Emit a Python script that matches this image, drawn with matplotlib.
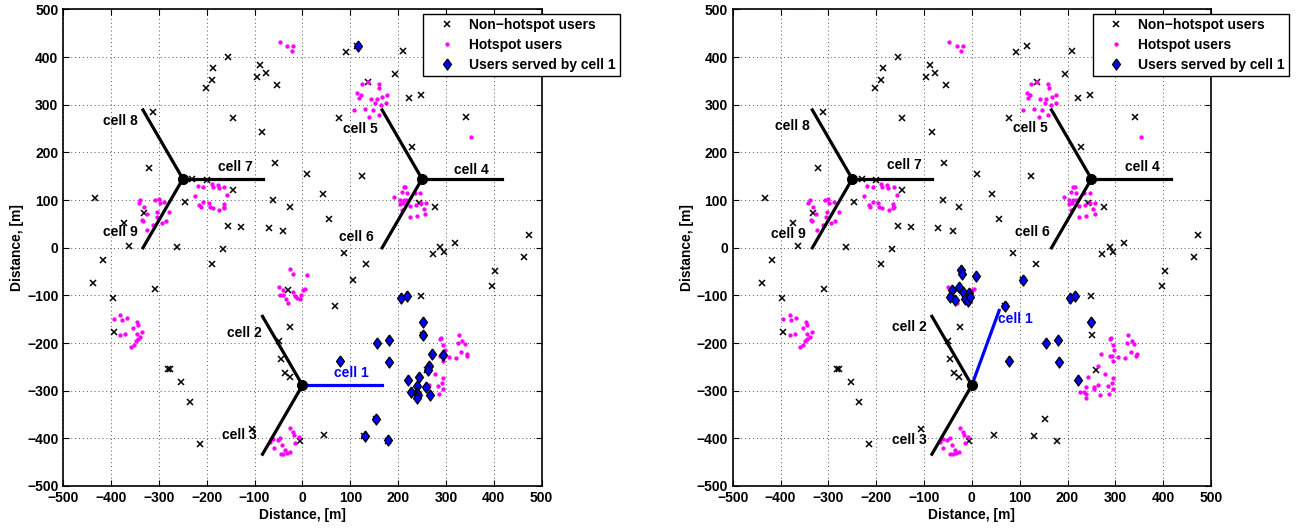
import numpy as np
import matplotlib
matplotlib.use('Agg')
import matplotlib.pyplot as plt

#-----------------------------------------------------------------------------------------------------------
# Data (metres)

# users without hotspot
nonhot_x = [-155, -186, -189.5, -202, -88.5, -95.5, -77, -53, 92, -311.5, -145, -84, 77, -320.6, -58, 10.5,
            42, 56.4, -433, -246, -230, -200, -146, -60.6, -26.5, -332, -373.5, -155, -127.5, -70, -40, -363,
            -263, -166.5, -417, 86, 210, 194, 136.6, 222, 248, 341.5, 228, 124, 243, 277, 272.5, 288, 295, 318,
            473, 464, 115, -438, -189.5, -309, -396.5, -395, 106.6, -30.7, 69, -25.8, -50, -45, -37, -26,
            -281.5, -277, -253.6, -235, -106, -214, -5.6, 46, 133.8, 248.8, 403.5, 396.5, 251, 260.6, 153, 129,
            179]
nonhot_y = [400, 376, 352, 336, 384, 359, 366, 340.5, 410, 284, 273, 243, 273, 168, 178, 155,
            113, 60, 105, 95, 145, 141, 120, 101, 86, 72, 51, 46, 43, 41, 36, 4,
            0.7, -2, -25, -12, 412.6, 364, 348, 315, 320, 274, 211, 151, 94, 85, -13, 0.7, -10, 10,
            26, -20, 424, -75, -35, -86, -105.6, -176, -68, -89.5, -121.7, -167, -196, -233.6, -262, -270.6,
            -255, -254.5, -281, -323, -380, -412.6, -406, -392, -33.6, -100.7, -49.7, -80.4, -183, -256.6, -360, -396,
            -405]

# hotspot users
hot_x = [124, 136, 159, 161, 115, 122, 118, 143, 155, 167, 176, 152, 165, 175, 107, 130, 147, 140, 160,
         352.6, -47, -32, -19, -22,
         212, 215, 208, 218, 192, 204, 212.5, 217, 210, 235.5, 246, 203, 225, 237.6, 247, 258.5, 254, 257, 225, 239, 208,
         -219, -207, -189.5, -188, -177, -175, -163, -157, -225, -207, -216, -212.5, -196, -194, -187.5, -173.5, -165, -163, -165,
         -342, -338.7, -331.7, -308, -299.7, -297.6, -289, -303.8, -278, -325, -336, -334, -305, -294, -285.7, -311.5, -324,
         -27, -19.5, 9, -49, -40, -47, -41, -34, -30, -19, -16, -10.5, -6, -3, 0.7, 5,
         -394, -381, -377.7, -367, -346, -354, -343.6, -334.5, -345.6, -339, -344, -349, -352.6, -359, -370, -381,
         -25.8, -18.8, -16.7, -7.7, -14.6, -46.7, -51, -60.6, -67, -60, -41.8, -36, -45.3, -39.7, -32.8, -26.5,
         287.8, 290.6, 294.8, 297.6, 269, 287.8, 293.4, 294.8, 306.6, 320, 327, 325, 333.8, 340, 331.7, 345, 343.6,
         262.7, 278, 294.8, 292, 284, 294.8, 243, 239.7, 256.4, 264, 256.4, 225.8, 235.5, 239, 239, 267, 285.7]
hot_y = [343, 348, 343, 336, 324, 320, 313, 311, 311, 317, 320, 304, 299, 303.5, 288, 292, 289, 274, 278,
         233, 431, 423, 424, 413,
         126.6, 126.6, 116, 115, 106, 101, 101, 100, 93, 114, 115, 92, 88, 90, 93, 93.7, 82, 71, 64, 66, 79,
         130, 128, 134, 126.6, 131, 124.5, 128, 111, 109, 96.5, 89.5, 84.6, 93, 86, 83, 80, 91.6, 86, 82.5,
         94, 101, 86, 101, 102, 94, 96, 75.5, 75.5, 71, 58, 56, 63.6, 52.4, 55, 48, 37,
         -45.5, -54.5, -57, -82, -89, -100, -100, -108, -117, -92.3, -101, -105, -108, -98.6, -89, -86,
         -150, -142, -151.7, -147, -155, -168, -161.5, -176, -181.8, -188, -192, -195, -204, -207.7, -181, -184,
         -377.6, -386.7, -393, -398, -410.5, -398.6, -403.5, -401, -408.4, -421, -414.7, -424.5, -433.6, -432, -430, -428,
         -191.6, -190, -205, -215, -223, -226.6, -227, -237, -229, -231.5, -184, -199, -195.8, -202, -218, -223.8, -228,
         -248, -265.7, -272.7, -284.6, -289.5, -297, -271, -291.6, -291.6, -288, -297, -303.5, -303.5, -307, -314.7, -308.4, -307]

# users served by cell 1, left scenario
served1_x = [207, 218, 251.6, 251.6, 156.8, 181.9, 181.9, 78, 271, 293.4, 264, 262, 244, 221.6, 226.5,
             240.4, 258.5, 267.6, 239, 241, 240.4, 154, 130.3, 179.8, 116.4]
served1_y = [-105, -100.7, -155, -183, -200.7, -193.7, -239, -237.8, -222.4, -225.9, -248, -257, -271, -277.6, -303.5,
             -291, -292.3, -308.4, -304, -309, -314.7, -360, -395.8, -403.5, 423.8]

# users served by cell 1, right scenario (tilted sector)
served2_x = [-23.7, -20, 7.7, -42.5, -26.5, -18.8, -6.3, -46.7, -34.8, -14.6, -7.7, -3.5,
             106.6, 69, 77.4, 205, 216.7, 250, 155.4, 180.5, 181.9, 220.9]
served2_y = [-46.9, -56, -58.7, -88.8, -83, -93, -95.8, -102.8, -109.8, -107, -111, -102.8,
             -68.5, -122.4, -237.8, -105, -100.7, -155, -200.7, -193.7, -239, -278]

# base station sites and sector orientation (deg)
site_x = [0, 250, -250]
site_y = [-288.7, 144.3, 144.3]
sector_len = 167
angles_left = [[0, 120, 240], [0, 120, 240], [0, 120, 240]]
angles_right = [[70, 120, 240], [0, 120, 240], [0, 120, 240]]

cell_names = ['cell 1', 'cell 2', 'cell 3', 'cell 4', 'cell 5', 'cell 6', 'cell 7', 'cell 8', 'cell 9']
label_left_x = [103, -122, -132, 354, 121, 113, -141, -380, -381]
label_left_y = [-262, -180, -393, 163, 250, 23, 168.5, 265.7, 32]
label_right_x = [90, -130, -130, 356, 123, 126, -141, -375.5, -383]
label_right_y = [-150, -167, -404, 168.5, 251.7, 32, 172.7, 255, 28]

#-----------------------------------------------------------------------------------------------------------
# Plot settings

plt.rcParams['font.family'] = ['Liberation Sans', 'DejaVu Sans']
plt.rcParams['font.weight'] = 'bold'
plt.rcParams['font.size'] = 10

# matlab style diamond (a bit wider than matplotlib 'd')
diamond = [(0, 1), (0.72, 0), (0, -1), (-0.72, 0), (0, 1)]

fig = plt.figure(figsize=(12.97, 5.29), dpi=100)
ax_left = fig.add_axes([0.0488, 0.0813, 0.3688, 0.901])
ax_right = fig.add_axes([0.5649, 0.0813, 0.3688, 0.901])


def draw_panel(ax, served_x, served_y, angles, lab_x, lab_y):
    ax.plot(nonhot_x, nonhot_y, 'x', color='black', markersize=4.2, markeredgewidth=1.1,
            label='Non\u2212hotspot users')
    ax.plot(hot_x, hot_y, 'o', color='magenta', markersize=3.1, markeredgewidth=0,
            label='Hotspot users')
    ax.plot(served_x, served_y, linestyle='none', marker=diamond, markerfacecolor='blue',
            markeredgecolor='black', markersize=8, markeredgewidth=0.9, label='Users served by cell 1')

    # sectors
    for s in range(len(site_x)):
        for k, a in enumerate(angles[s]):
            col = 'blue' if (s == 0 and k == 0) else 'black'
            ex = site_x[s] + sector_len * np.cos(np.radians(a))
            ey = site_y[s] + sector_len * np.sin(np.radians(a))
            ax.plot([site_x[s], ex], [site_y[s], ey], '-', color=col, linewidth=2.3, zorder=4)
        ax.plot(site_x[s], site_y[s], 'o', color='black', markersize=7, zorder=5)

    for i, name in enumerate(cell_names):
        col = 'blue' if i == 0 else 'black'
        ax.text(lab_x[i], lab_y[i], name, color=col, fontsize=10, fontweight='bold',
                ha='center', va='center', zorder=6)

    ax.set_xlim(-500, 500)
    ax.set_ylim(-500, 500)
    ax.set_xticks(np.arange(-500, 501, 100))
    ax.set_yticks(np.arange(-500, 501, 100))
    ax.tick_params(direction='in', top=True, right=True, length=4, width=0.8, labelsize=10)
    for lbl in ax.get_xticklabels() + ax.get_yticklabels():
        lbl.set_fontweight('bold')
    ax.grid(True, linestyle=(0, (1, 3)), color='#555555', linewidth=0.7)
    for sp in ax.spines.values():
        sp.set_linewidth(1.2)
    ax.set_xlabel('Distance, [m]', fontweight='bold', fontsize=10, labelpad=2)
    ax.set_ylabel('Distance, [m]', fontweight='bold', fontsize=10, labelpad=2)
    # legend sticks out of the axes on the right, like in the original
    leg = ax.legend(loc='upper left', bbox_to_anchor=(0.7525, 0.991), fancybox=False, framealpha=1,
                    edgecolor='black', borderaxespad=0, handlelength=2.8, handletextpad=0.2,
                    labelspacing=0.45, borderpad=0.3, prop={'weight': 'bold', 'size': 10})
    leg.get_frame().set_linewidth(1.0)


draw_panel(ax_left, served1_x, served1_y, angles_left, label_left_x, label_left_y)
draw_panel(ax_right, served2_x, served2_y, angles_right, label_right_x, label_right_y)

plt.savefig('out.png', dpi=100)
